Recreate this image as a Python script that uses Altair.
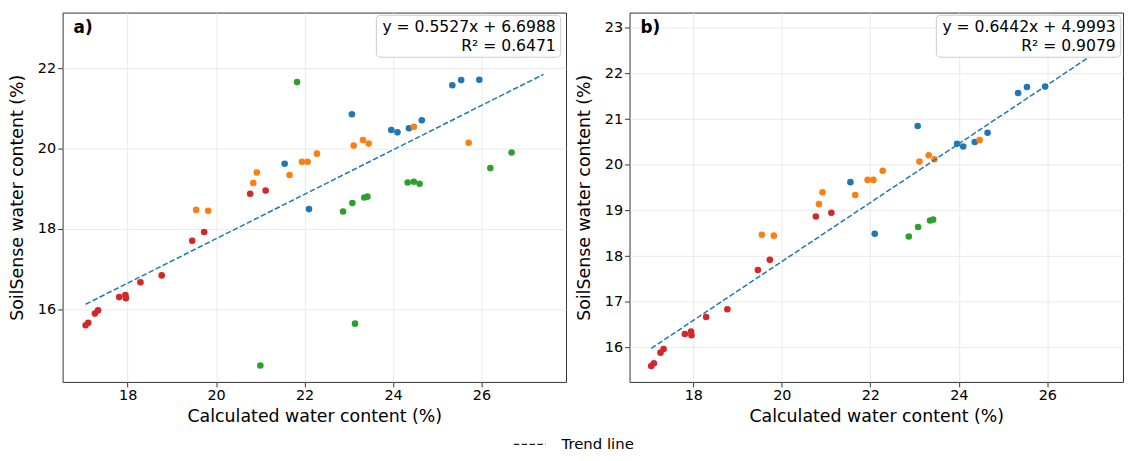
import altair as alt
import pandas as pd

FONT = "DejaVu Sans"

# ---- data ----
GROUPS = ["Series 1", "Series 2", "Series 3", "Series 4"]
COLORS = ["#1f77b4", "#ff7f0e", "#2ca02c", "#d62728"]

s1_calc = [21.55, 22.10, 23.07, 23.96, 24.10, 24.36, 24.65, 25.34, 25.54, 25.95]
s1_soil = [19.62, 18.49, 20.85, 20.46, 20.40, 20.50, 20.70, 21.57, 21.70, 21.71]
s1_in_b = [1, 1, 1, 1, 1, 1, 1, 1, 1, 1]

s2_calc = [19.55, 19.82, 20.84, 20.92, 21.66, 21.94, 22.07, 22.28, 23.11, 23.32, 23.45, 24.47, 25.71]
s2_soil = [18.47, 18.45, 19.14, 19.40, 19.34, 19.67, 19.67, 19.87, 20.07, 20.21, 20.12, 20.54, 20.14]
s2_in_b = [1, 1, 1, 1, 1, 1, 1, 1, 1, 1, 1, 1, 0]

s3_calc = [22.87, 23.08, 23.35, 23.42, 21.83, 23.14, 21.00, 24.33, 24.47, 24.60, 26.20, 26.68]
s3_soil = [18.43, 18.64, 18.78, 18.80, 21.65, 15.64, 14.60, 19.15, 19.17, 19.12, 19.51, 19.90]
s3_in_b = [1, 1, 1, 1, 0, 0, 0, 0, 0, 0, 0, 0]

s4_calc = [20.77, 21.12, 19.73, 19.46, 18.77, 18.29, 17.81, 17.95, 17.96, 17.33, 17.26, 17.11, 17.05]
s4_soil = [18.87, 18.95, 17.92, 17.70, 16.84, 16.67, 16.30, 16.35, 16.27, 15.97, 15.89, 15.66, 15.60]
s4_in_b = [1, 1, 1, 1, 1, 1, 1, 1, 1, 1, 1, 1, 1]

# trend lines (coefficients as printed in the chart)
panel_labels = ["a)", "b)"]
slopes = [0.5527, 0.6442]
intercepts = [6.6988, 4.9993]
r2_values = [0.6471, 0.9079]
trend_x = [17.05, 27.4]

x_ticks = [18, 20, 22, 24, 26]
y_ticks_a = [16, 18, 20, 22]
y_ticks_b = [16, 17, 18, 19, 20, 21, 22, 23]

# ---- build table ----
rows = []
for g, cs, ss, bs in zip(GROUPS,
                         [s1_calc, s2_calc, s3_calc, s4_calc],
                         [s1_soil, s2_soil, s3_soil, s4_soil],
                         [s1_in_b, s2_in_b, s3_in_b, s4_in_b]):
    for c, s, b in zip(cs, ss, bs):
        rows.append({"calc": c, "soil": s, "group": g, "in_b": b})
df = pd.DataFrame(rows)
df_a = df
df_b = df[df["in_b"] == 1]


def panel(data, idx, xdom, ydom, yticks, width, height, box_x0):
    xs = alt.Scale(domain=xdom, nice=False, zero=False)
    ys = alt.Scale(domain=ydom, nice=False, zero=False)
    pts = alt.Chart(data).mark_circle(size=44, opacity=1).encode(
        x=alt.X("calc:Q", scale=xs,
                axis=alt.Axis(values=x_ticks, title="Calculated water content (%)")),
        y=alt.Y("soil:Q", scale=ys,
                axis=alt.Axis(values=yticks, title="SoilSense water content (%)")),
        color=alt.Color("group:N", scale=alt.Scale(domain=GROUPS, range=COLORS), legend=None),
    )
    tdf = pd.DataFrame({
        "calc": trend_x,
        "soil": [slopes[idx] * x + intercepts[idx] for x in trend_x],
        "kind": ["Trend line"] * len(trend_x),
    })
    line = alt.Chart(tdf).mark_line(color="#1f77b4", strokeWidth=1.5).encode(
        x="calc:Q",
        y="soil:Q",
        strokeDash=alt.StrokeDash(
            "kind:N",
            scale=alt.Scale(domain=["Trend line"], range=[[5.5, 2.4]]),
            legend=alt.Legend(
                title=None, orient="none", legendX=463, legendY=427.5, padding=0,
                symbolType="M-3.2,0L3.2,0", symbolSize=100, symbolStrokeWidth=1.3,
                symbolStrokeColor="#222222", symbolFillColor="transparent",
                labelFont=FONT, labelFontSize=15,
                labelColor="black", labelOffset=24.5,
            ),
        ),
    )
    one = pd.DataFrame({"eq": [f"y = {slopes[idx]:.4f}x + {intercepts[idx]:.4f}"],
                        "r2": [f"R² = {r2_values[idx]:.4f}"],
                        "lab": [panel_labels[idx]]})
    box = alt.Chart(one).mark_rect(fill="white", stroke="#cccccc", strokeWidth=1,
                                   cornerRadius=4).encode(
        x=alt.value(box_x0), x2=alt.value(box_x0 + 185.7), y=alt.value(2.7), y2=alt.value(45))
    eq = alt.Chart(one).mark_text(align="right", baseline="middle", font=FONT, fontSize=15.7,
                                  color="black").encode(
        x=alt.value(box_x0 + 180.7), y=alt.value(15), text="eq:N")
    r2 = alt.Chart(one).mark_text(align="right", baseline="middle", font=FONT, fontSize=15.7,
                                  color="black").encode(
        x=alt.value(box_x0 + 180.7), y=alt.value(33.3), text="r2:N")
    lab = alt.Chart(one).mark_text(align="left", baseline="middle", font=FONT, fontSize=17,
                                   fontWeight="bold", color="black").encode(
        x=alt.value(11), y=alt.value(16), text="lab:N")
    return alt.layer(pts, line, box, eq, r2, lab).properties(width=width, height=height)


pa = panel(df_a, 0, [16.53, 27.91], [14.19, 23.38], y_ticks_a, 507, 372, 316)
pb = panel(df_b, 1, [16.56, 27.71], [15.25, 23.33], y_ticks_b, 497, 372, 309)

chart = alt.hconcat(pa, pb, spacing=8).properties(
    padding={"left": 0, "top": 2, "right": 0, "bottom": 0}
).configure_view(
    stroke="#333333", strokeWidth=1
).configure_axis(
    labelFont=FONT, titleFont=FONT, labelFontSize=14.5, titleFontSize=17.5,
    titleFontWeight="normal", labelColor="black", titleColor="black",
    tickColor="#333333", tickSize=5, labelPadding=2, domain=False,
    gridColor="#e4e4e4", gridWidth=0.8,
).configure_axisY(
    titlePadding=10.5
).configure_axisX(
    titlePadding=5
)

chart.save("out.html", embed_options={"renderer": "svg", "actions": False})
